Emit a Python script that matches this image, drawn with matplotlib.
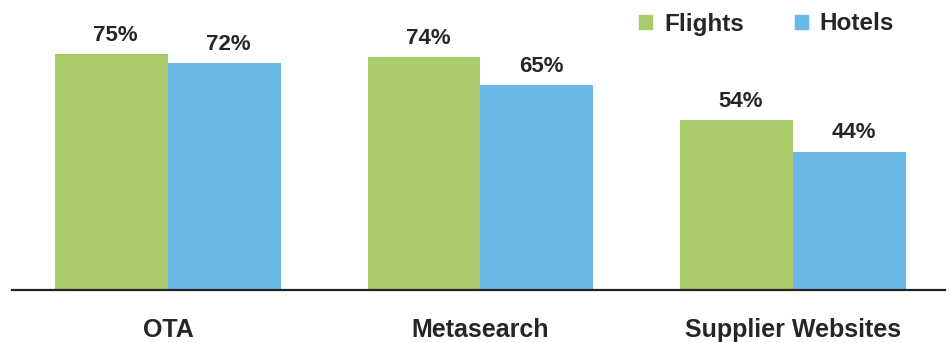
# grouped bars: share of flights vs hotels by booking channel

import matplotlib.pyplot as plt
from matplotlib.patches import Patch
import numpy as np

plt.rcParams['font.family'] = ['Liberation Sans', 'DejaVu Sans']

channels = ['OTA', 'Metasearch', 'Supplier Websites']
flights = [75, 74, 54]
hotels = [72, 65, 44]
series_names = ['Flights', 'Hotels']

green = '#a9cb6a'
blue = '#69b8e8'
text_col = '#262626'

fig = plt.figure(figsize=(9.5, 3.43), dpi=100)
ax = fig.add_axes([12 / 950, 53 / 343, 933 / 950, 290 / 343])

x = np.arange(len(channels))
w = 0.3616
b1 = ax.bar(x - w / 2, flights, w, color=green)
b2 = ax.bar(x + w / 2, hotels, w, color=blue)

# value labels over each bar
for bars, vals in [(b1, flights), (b2, hotels)]:
    for rect, v in zip(bars, vals):
        ax.annotate(f'{v}%', (rect.get_x() + rect.get_width() / 2, v),
                    xytext=(3, 6), textcoords='offset points',
                    ha='center', va='bottom', fontsize=16,
                    fontweight='bold', color=text_col)

ax.set_xlim(-0.4992, 2.4864)
ax.set_ylim(0, 92.15)
ax.set_xticks(x)
ax.set_xticklabels(channels, fontsize=18, fontweight='bold', color=text_col)
ax.tick_params(axis='x', length=0, pad=20)
ax.set_yticks([])
for s in ['top', 'left', 'right']:
    ax.spines[s].set_visible(False)
ax.spines['bottom'].set_linewidth(1.6)
ax.spines['bottom'].set_color('#222222')

handles = [Patch(color=green), Patch(color=blue)]
fig.legend(handles, series_names, loc='center left',
           bbox_to_anchor=(639 / 950, 1 - 24 / 343), ncol=2, frameon=False,
           borderpad=0, borderaxespad=0, handlelength=0.53, handleheight=0.53,
           handletextpad=0.5, columnspacing=2.1,
           prop={'size': 17.5, 'weight': 'bold'}, labelcolor=text_col)

plt.savefig('out.png', dpi=100)
